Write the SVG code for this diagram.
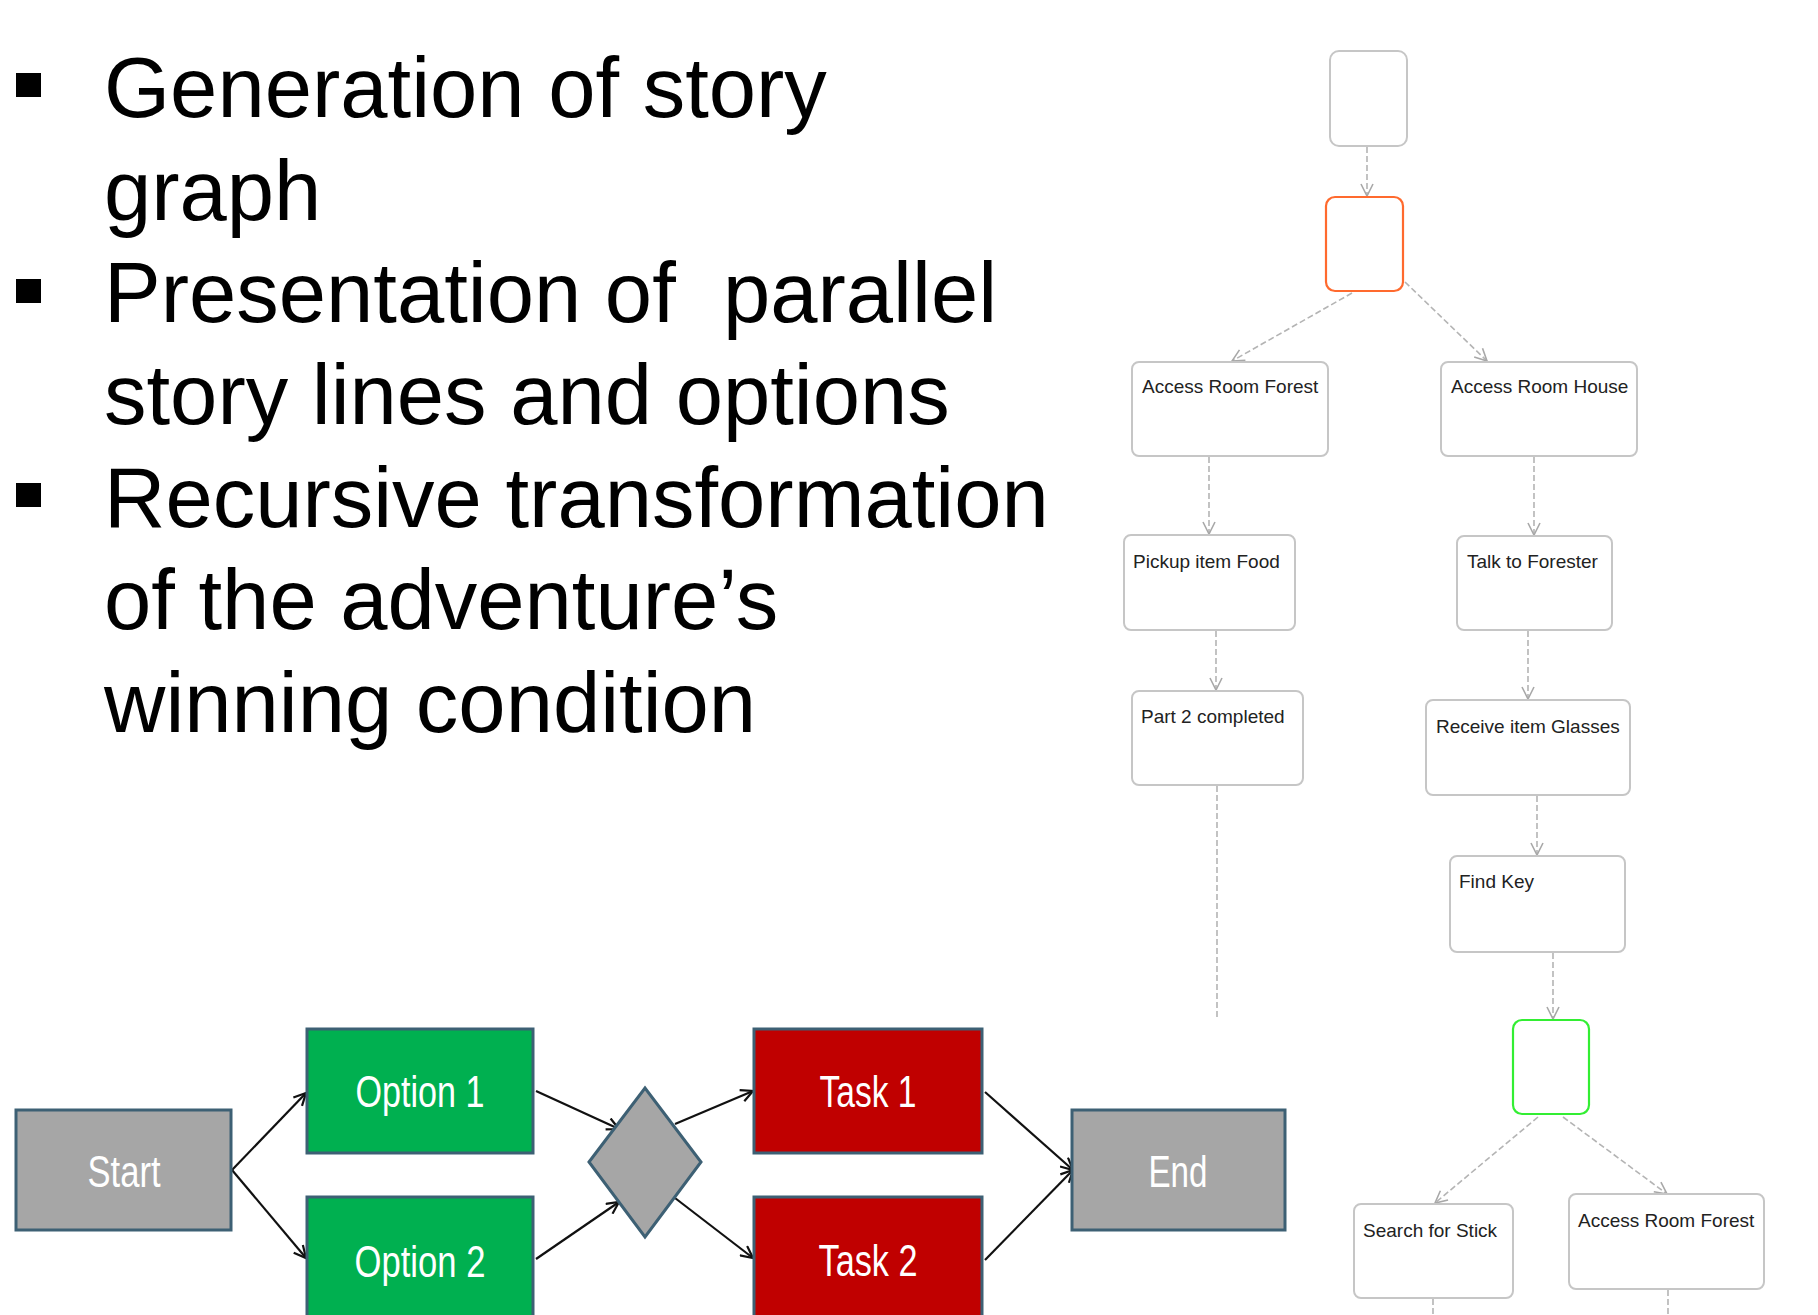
<svg xmlns="http://www.w3.org/2000/svg" width="1818" height="1315" viewBox="0 0 1818 1315">
<style>
.bul{font-family:"Liberation Sans",Arial,sans-serif;font-size:85px;fill:#000;white-space:pre}
.sq{fill:#000}
.gn{fill:#fff;stroke:#c6c6c6;stroke-width:2}
.gt{font-family:"Liberation Sans",Arial,sans-serif;font-size:19px;fill:#222}
.gc{fill:none;stroke:#b4b4b4;stroke-width:1.6;stroke-dasharray:6 3}
.fb{stroke:#3d6074;stroke-width:3}
.ft{font-family:"Liberation Sans",Arial,sans-serif;font-size:44px;fill:#fff;text-anchor:middle}
.fc{fill:none;stroke:#111;stroke-width:2.2}
</style>
<defs>
<marker id="ga" viewBox="0 0 14 14" refX="13" refY="7" markerWidth="14" markerHeight="14" markerUnits="userSpaceOnUse" orient="auto">
<path d="M1,1 L13,7 L1,13" fill="none" stroke="#a8a8a8" stroke-width="1.6"/>
</marker>
<marker id="ba" viewBox="0 0 14 14" refX="13" refY="7" markerWidth="14" markerHeight="14" markerUnits="userSpaceOnUse" orient="auto">
<path d="M1,1 L13,7 L1,13" fill="none" stroke="#111" stroke-width="2.2"/>
</marker>
</defs>
<rect width="1818" height="1315" fill="#fff"/>

<g id="bullets">
<rect class="sq" x="16" y="73" width="25" height="24"/>
<rect class="sq" x="16" y="279" width="25" height="24"/>
<rect class="sq" x="16" y="483" width="25" height="24"/>
<text class="bul" x="104" y="117">Generation of story</text>
<text class="bul" x="104" y="220">graph</text>
<text class="bul" x="104" y="322">Presentation of  parallel</text>
<text class="bul" x="104" y="424">story lines and options</text>
<text class="bul" x="104" y="527">Recursive transformation</text>
<text class="bul" x="104" y="629">of the adventure’s</text>
<text class="bul" x="104" y="732">winning condition</text>
</g>

<g id="graph-connectors">
<path class="gc" d="M1367,147 L1367,196" marker-end="url(#ga)"/>
<path class="gc" d="M1352,293 L1232,361" marker-end="url(#ga)"/>
<path class="gc" d="M1405,282 L1487,361" marker-end="url(#ga)"/>
<path class="gc" d="M1209,457 L1209,534" marker-end="url(#ga)"/>
<path class="gc" d="M1216,631 L1216,690" marker-end="url(#ga)"/>
<path class="gc" d="M1217,786 L1217,1017"/>
<path class="gc" d="M1534,457 L1534,535" marker-end="url(#ga)"/>
<path class="gc" d="M1528,631 L1528,699" marker-end="url(#ga)"/>
<path class="gc" d="M1537,796 L1537,855" marker-end="url(#ga)"/>
<path class="gc" d="M1553,953 L1553,1019" marker-end="url(#ga)"/>
<path class="gc" d="M1538,1117 L1435,1203" marker-end="url(#ga)"/>
<path class="gc" d="M1563,1117 L1667,1194" marker-end="url(#ga)"/>
<path class="gc" d="M1433,1299 L1433,1315"/>
<path class="gc" d="M1668,1290 L1668,1315"/>
</g>

<g id="g-top"><rect class="gn" x="1330" y="51" width="77" height="95" rx="9"/></g>
<g id="g-orange"><rect x="1326" y="197" width="77" height="94" rx="9" fill="#fff" stroke="#ff6a2e" stroke-width="2.2"/></g>
<g id="g-arf"><rect class="gn" x="1132" y="362" width="196" height="94" rx="7"/><text class="gt" x="1142" y="393">Access Room Forest</text></g>
<g id="g-arh"><rect class="gn" x="1441" y="362" width="196" height="94" rx="7"/><text class="gt" x="1451" y="393">Access Room House</text></g>
<g id="g-pickup"><rect class="gn" x="1124" y="535" width="171" height="95" rx="7"/><text class="gt" x="1133" y="568">Pickup item Food</text></g>
<g id="g-talk"><rect class="gn" x="1457" y="536" width="155" height="94" rx="7"/><text class="gt" x="1467" y="568">Talk to Forester</text></g>
<g id="g-part2"><rect class="gn" x="1132" y="691" width="171" height="94" rx="7"/><text class="gt" x="1141" y="723">Part 2 completed</text></g>
<g id="g-glasses"><rect class="gn" x="1426" y="700" width="204" height="95" rx="7"/><text class="gt" x="1436" y="733">Receive item Glasses</text></g>
<g id="g-findkey"><rect class="gn" x="1450" y="856" width="175" height="96" rx="7"/><text class="gt" x="1459" y="888">Find Key</text></g>
<g id="g-green"><rect x="1513" y="1020" width="76" height="94" rx="9" fill="#fff" stroke="#33ee33" stroke-width="2.2"/></g>
<g id="g-stick"><rect class="gn" x="1354" y="1204" width="159" height="94" rx="7"/><text class="gt" x="1363" y="1237">Search for Stick</text></g>
<g id="g-arf2"><rect class="gn" x="1569" y="1194" width="195" height="95" rx="7"/><text class="gt" x="1578" y="1227">Access Room Forest</text></g>

<g id="flow-connectors">
<path class="fc" d="M232,1170 L306,1093" marker-end="url(#ba)"/>
<path class="fc" d="M232,1170 L306,1258" marker-end="url(#ba)"/>
<path class="fc" d="M536,1091 L619,1129" marker-end="url(#ba)"/>
<path class="fc" d="M536,1259 L619,1202" marker-end="url(#ba)"/>
<path class="fc" d="M675,1124 L753,1091" marker-end="url(#ba)"/>
<path class="fc" d="M675,1198 L753,1258" marker-end="url(#ba)"/>
<path class="fc" d="M985,1092 L1073,1170" marker-end="url(#ba)"/>
<path class="fc" d="M985,1260 L1073,1170" marker-end="url(#ba)"/>
</g>

<g id="f-start"><rect class="fb" x="16" y="1110" width="215" height="120" fill="#a6a6a6"/><text class="ft" x="124" y="1187" textLength="73" lengthAdjust="spacingAndGlyphs" fill="#f4f4f4">Start</text></g>
<g id="f-opt1"><rect class="fb" x="307" y="1029" width="226" height="124" fill="#00b050"/><text class="ft" x="420" y="1107" textLength="129" lengthAdjust="spacingAndGlyphs">Option 1</text></g>
<g id="f-opt2"><rect class="fb" x="307" y="1197" width="226" height="130" fill="#00b050"/><text class="ft" x="420" y="1277" textLength="131" lengthAdjust="spacingAndGlyphs">Option 2</text></g>
<g id="f-dec"><polygon class="fb" points="589,1162 645,1088 701,1162 645,1237" fill="#a6a6a6"/></g>
<g id="f-task1"><rect class="fb" x="754" y="1029" width="228" height="124" fill="#c00000"/><text class="ft" x="868" y="1107" textLength="97" lengthAdjust="spacingAndGlyphs">Task 1</text></g>
<g id="f-task2"><rect class="fb" x="754" y="1197" width="228" height="130" fill="#c00000"/><text class="ft" x="868" y="1276" textLength="99" lengthAdjust="spacingAndGlyphs">Task 2</text></g>
<g id="f-end"><rect class="fb" x="1072" y="1110" width="213" height="120" fill="#a6a6a6"/><text class="ft" x="1178" y="1187" textLength="59" lengthAdjust="spacingAndGlyphs" fill="#f4f4f4">End</text></g>
</svg>
